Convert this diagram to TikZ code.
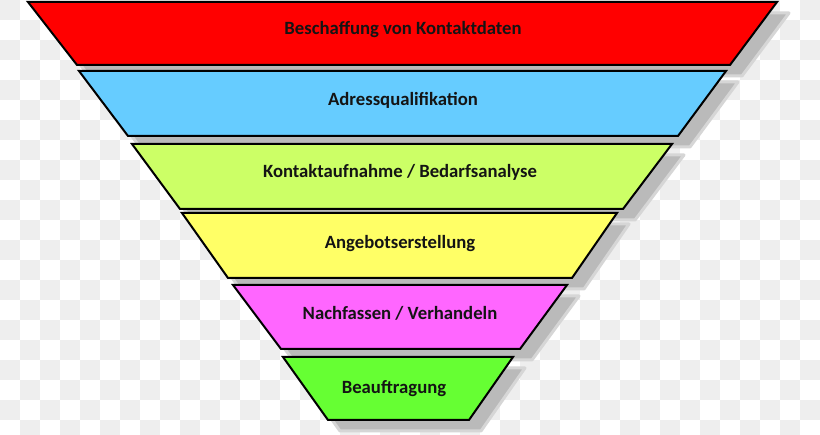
\documentclass[tikz,border=0pt]{standalone}
\usepackage{fontspec}
\setmainfont{Carlito}
\definecolor{chk}{HTML}{EEEEEE}
\definecolor{shd}{HTML}{BABABA}
\definecolor{cA}{HTML}{FF0000}
\definecolor{cB}{HTML}{66CCFF}
\definecolor{cC}{HTML}{CCFF66}
\definecolor{cD}{HTML}{FFFF66}
\definecolor{cE}{HTML}{FF66FF}
\definecolor{cF}{HTML}{66FF33}
\tikzset{
  layerbox/.style={draw=black, line width=2pt, line join=miter},
  shadowbox/.style={fill=shd, draw=shd!60, line width=3pt, line join=round},
  lbl/.style={font=\fontsize{18.7}{22}\selectfont\bfseries, text=black!92, anchor=base, inner sep=0pt}
}
\begin{document}
\begin{tikzpicture}[x=1pt,y=-1pt]
\useasboundingbox (0,0) rectangle (820,435);
\begin{scope}
\clip (0,0) rectangle (820,435);
\fill[white] (0,0) rectangle (820,435);
\foreach \i in {0,...,40}{\foreach \j in {0,...,21}{%
  \pgfmathtruncatemacro\p{mod(\i+\j,2)}%
  \ifnum\p=0 \fill[chk] (20*\i,20*\j) rectangle ++(20,20);\fi}}
\end{scope}
% shadows
\begin{scope}[shift={(12,11)}]
\path[shadowbox] (28,2) -- (777,2) -- (730,65) -- (77,65) -- cycle;
\path[shadowbox] (79,71) -- (726,71) -- (678,136) -- (128,136) -- cycle;
\path[shadowbox] (132,144) -- (672,144) -- (623,209) -- (180,209) -- cycle;
\path[shadowbox] (182,213) -- (617,213) -- (572,278) -- (228,278) -- cycle;
\path[shadowbox] (233,285) -- (567,285) -- (520,349) -- (281,349) -- cycle;
\path[shadowbox] (283,357) -- (513,357) -- (469,420) -- (328,420) -- cycle;
\end{scope}
% layers
\path[layerbox, fill=cA] (28,2) -- (777,2) -- (730,65) -- (77,65) -- cycle;
\path[layerbox, fill=cB] (79,71) -- (726,71) -- (678,136) -- (128,136) -- cycle;
\path[layerbox, fill=cC] (132,144) -- (672,144) -- (623,209) -- (180,209) -- cycle;
\path[layerbox, fill=cD] (182,213) -- (617,213) -- (572,278) -- (228,278) -- cycle;
\path[layerbox, fill=cE] (233,285) -- (567,285) -- (520,349) -- (281,349) -- cycle;
\path[layerbox, fill=cF] (283,357) -- (513,357) -- (469,420) -- (328,420) -- cycle;
% labels
\node[lbl] (t1) at (403,35) {Beschaffung von Kontaktdaten};
\node[lbl] (t2) at (403,106) {Adressqualifikation};
\node[lbl] (t3) at (400,178) {Kontaktaufnahme / Bedarfsanalyse};
\node[lbl] (t4) at (400,249) {Angebotserstellung};
\node[lbl] (t5) at (400,320) {Nachfassen / Verhandeln};
\node[lbl] (t6) at (394,394) {Beauftragung};
\end{tikzpicture}
\end{document}
